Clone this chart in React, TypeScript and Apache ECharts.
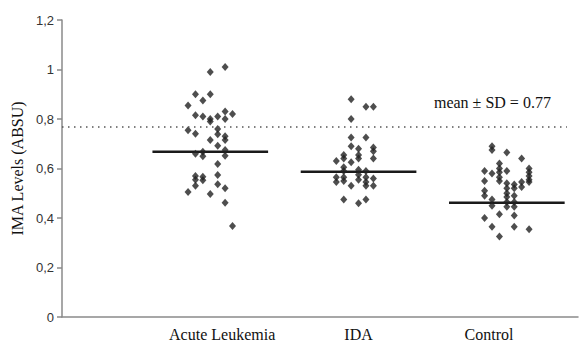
import React, { useEffect, useRef } from 'react';
import * as echarts from 'echarts';

// Groups shown along the horizontal axis
const categories = ['Acute Leukemia', 'IDA', 'Control'];

// IMA levels (ABSU) per subject, with the dot-plot column each dot sits in
const acuteValues = [
  0.855, 0.755, 0.505,
  0.9, 0.815, 0.74, 0.66, 0.57, 0.555, 0.53,
  0.875, 0.81, 0.668, 0.65, 0.567, 0.553,
  0.99, 0.9, 0.8, 0.79, 0.715, 0.497,
  0.81, 0.76, 0.738, 0.692, 0.618, 0.574, 0.536,
  1.01, 0.83, 0.8, 0.73, 0.715, 0.675, 0.652, 0.52, 0.462,
  0.82, 0.368,
];
const acuteColumns = [
  -3, -3, -3,
  -2, -2, -2, -2, -2, -2, -2,
  -1, -1, -1, -1, -1, -1,
  0, 0, 0, 0, 0, 0,
  1, 1, 1, 1, 1, 1, 1,
  2, 2, 2, 2, 2, 2, 2, 2, 2,
  3, 3,
];

const idaValues = [
  0.63, 0.565, 0.545,
  0.655, 0.64, 0.605, 0.59, 0.565, 0.55, 0.475,
  0.88, 0.8, 0.725, 0.69, 0.625, 0.53,
  0.68, 0.655, 0.64, 0.595, 0.575, 0.555, 0.46,
  0.85, 0.725, 0.59, 0.565, 0.545, 0.53, 0.475,
  0.85, 0.685, 0.67, 0.64, 0.56, 0.53,
];
const idaColumns = [
  -3, -3, -3,
  -2, -2, -2, -2, -2, -2, -2,
  -1, -1, -1, -1, -1, -1,
  0, 0, 0, 0, 0, 0, 0,
  1, 1, 1, 1, 1, 1, 1,
  2, 2, 2, 2, 2, 2,
];

const controlValues = [
  0.59, 0.55, 0.51, 0.49, 0.4,
  0.69, 0.675, 0.58, 0.475, 0.45, 0.365,
  0.62, 0.6, 0.585, 0.565, 0.55, 0.415, 0.325,
  0.665, 0.59, 0.54, 0.52, 0.5, 0.485, 0.465, 0.445,
  0.535, 0.52, 0.49, 0.465, 0.445, 0.41, 0.365,
  0.64, 0.545, 0.525,
  0.6, 0.585, 0.57, 0.555, 0.545, 0.355,
];
const controlColumns = [
  -3, -3, -3, -3, -3,
  -2, -2, -2, -2, -2, -2,
  -1, -1, -1, -1, -1, -1, -1,
  0, 0, 0, 0, 0, 0, 0, 0,
  1, 1, 1, 1, 1, 1, 1,
  2, 2, 2,
  3, 3, 3, 3, 3, 3,
];

// Group means (horizontal bars) and the mean ± SD cut-off
const groupMeans = [0.668, 0.587, 0.462];
const cutoffValue = 0.77;

// Y axis tick labels
const yTicks = [0, 0.2, 0.4, 0.6, 0.8, 1, 1.2];

const groupValues = [acuteValues, idaValues, controlValues];
const groupColumns = [acuteColumns, idaColumns, controlColumns];

const SERIF = 'Liberation Serif';
const SANS = 'Liberation Sans';
const COLUMN_STEP = 0.05;
const MEAN_HALF_WIDTH = 0.39;
const X_MAX = 3.48;
const CUTOFF_END = 3.405;
const LABEL_POSITIONS = [1.08, 2.0, 2.88];

export default function App() {
  const ref = useRef<HTMLDivElement>(null);

  useEffect(() => {
    if (!ref.current) return;
    const chart = echarts.init(ref.current, undefined, { renderer: 'svg' });

    const dots: number[][] = [];
    groupValues.forEach((vals, g) => {
      vals.forEach((v, i) => {
        dots.push([g + 1 + groupColumns[g][i] * COLUMN_STEP, v]);
      });
    });

    const meanSeries = groupMeans.map((m, g) => ({
      type: 'line',
      data: [
        [g + 1 - MEAN_HALF_WIDTH, m],
        [g + 1 + MEAN_HALF_WIDTH, m],
      ],
      symbol: 'none',
      lineStyle: { color: '#1a1a1a', width: 2.5 },
      z: 3,
      silent: true,
    }));

    chart.setOption({
      animation: false,
      backgroundColor: '#ffffff',
      grid: { left: 62, right: 2, top: 20, bottom: 28, containLabel: false },
      xAxis: {
        type: 'value',
        min: 0,
        max: X_MAX,
        splitLine: { show: false },
        axisTick: { show: false },
        axisLine: { show: true, lineStyle: { color: '#8a8a8a', width: 1.5 } },
        axisLabel: {
          customValues: LABEL_POSITIONS,
          formatter: (val: number) => categories[Math.round(val) - 1] ?? '',
          fontFamily: SERIF,
          fontSize: 16,
          color: '#111',
          margin: 9,
        },
      },
      yAxis: {
        type: 'value',
        min: yTicks[0],
        max: yTicks[yTicks.length - 1],
        interval: yTicks[1] - yTicks[0],
        name: 'IMA Levels (ABSU)',
        nameLocation: 'middle',
        nameGap: 35,
        nameRotate: 90,
        nameTextStyle: { fontFamily: SERIF, fontSize: 16, color: '#111' },
        splitLine: { show: false },
        axisLine: { show: true, lineStyle: { color: '#8a8a8a', width: 1.5 } },
        axisTick: { show: true, inside: false, length: 5, lineStyle: { color: '#8a8a8a', width: 1.5 } },
        axisLabel: {
          fontFamily: SANS,
          fontSize: 13,
          color: '#333',
          margin: 8,
          formatter: (v: number) => String(Math.round(v * 10) / 10).replace('.', ','),
        },
      },
      series: [
        {
          type: 'scatter',
          data: dots,
          symbol: 'diamond',
          symbolSize: [7, 8],
          itemStyle: { color: '#222222' },
          z: 4,
          markLine: {
            silent: true,
            symbol: ['none', 'none'],
            lineStyle: { color: '#555', type: [1.5, 4.5], width: 1.5 },
            label: {
              show: true,
              position: 'insideEndTop',
              formatter: () => `mean ± SD = ${cutoffValue}`,
              fontFamily: SERIF,
              fontSize: 16,
              color: '#111',
              distance: 16,
            },
            data: [
              [
                { coord: [0, cutoffValue] },
                { coord: [CUTOFF_END, cutoffValue] },
              ],
            ],
          },
        },
        ...meanSeries,
      ],
    });

    return () => chart.dispose();
  }, []);

  return (
    <div
      ref={ref}
      style={{ position: 'fixed', left: 0, top: 0, width: 580, height: 345, background: '#fff' }}
    />
  );
}
